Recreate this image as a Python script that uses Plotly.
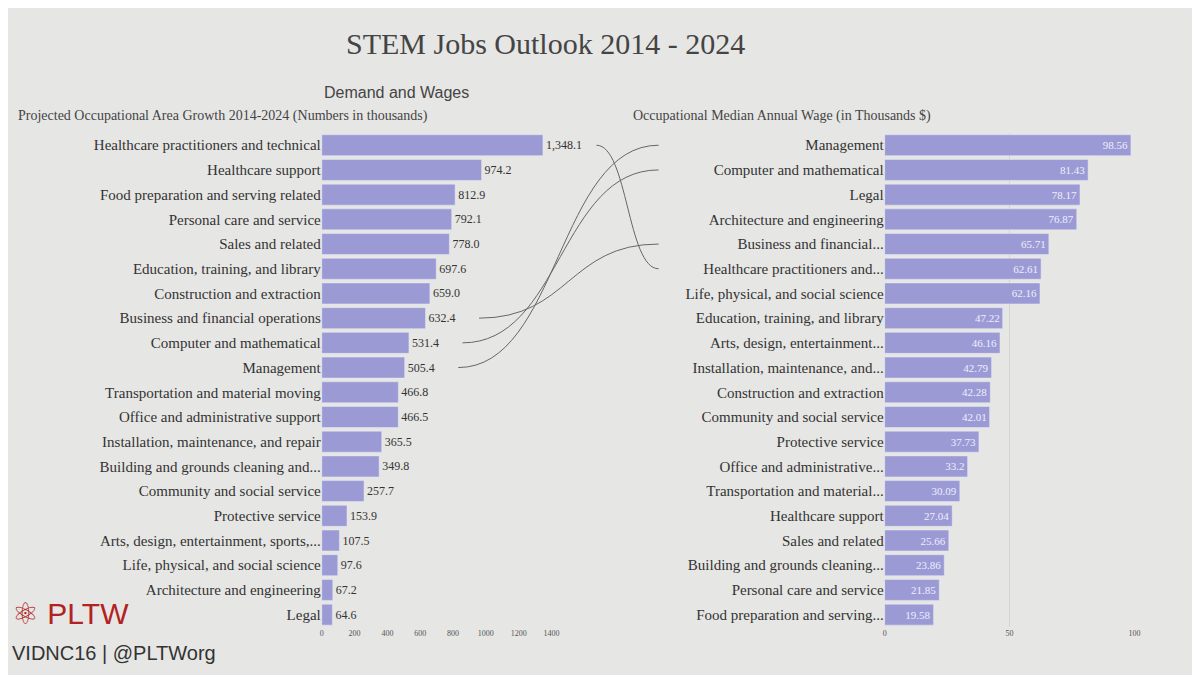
import plotly.graph_objects as go

left_cats = ["Healthcare practitioners and technical", "Healthcare support", "Food preparation and serving related",
             "Personal care and service", "Sales and related", "Education, training, and library",
             "Construction and extraction", "Business and financial operations", "Computer and mathematical",
             "Management", "Transportation and material moving", "Office and administrative support",
             "Installation, maintenance, and repair", "Building and grounds cleaning and...",
             "Community and social service", "Protective service", "Arts, design, entertainment, sports,...",
             "Life, physical, and social science", "Architecture and engineering", "Legal"]
left_vals = [1348.1, 974.2, 812.9, 792.1, 778.0, 697.6, 659.0, 632.4, 531.4, 505.4, 466.8, 466.5,
             365.5, 349.8, 257.7, 153.9, 107.5, 97.6, 67.2, 64.6]

right_cats = ["Management", "Computer and mathematical", "Legal", "Architecture and engineering",
              "Business and financial...", "Healthcare practitioners and...", "Life, physical, and social science",
              "Education, training, and library", "Arts, design, entertainment...", "Installation, maintenance, and...",
              "Construction and extraction", "Community and social service", "Protective service",
              "Office and administrative...", "Transportation and material...", "Healthcare support",
              "Sales and related", "Building and grounds cleaning...", "Personal care and service",
              "Food preparation and serving..."]
right_vals = [98.56, 81.43, 78.17, 76.87, 65.71, 62.61, 62.16, 47.22, 46.16, 42.79, 42.28, 42.01,
              37.73, 33.2, 30.09, 27.04, 25.66, 23.86, 21.85, 19.58]

links = [(0, 5), (7, 4), (8, 1), (9, 0)]  # left index -> right index

bar_color = "#9c9ad4"
font = "Liberation Serif"
fig = go.Figure()
fig.add_trace(go.Bar(x=left_vals, y=left_cats, orientation="h", marker_color=bar_color,
                     text=[f"{v:,.1f}" for v in left_vals], textposition="outside",
                     textfont=dict(size=12, color="#333", family=font), cliponaxis=False,
                     xaxis="x", yaxis="y", width=0.85))
fig.add_trace(go.Bar(x=right_vals, y=right_cats, orientation="h", marker_color=bar_color,
                     text=[f"{v:g}" for v in right_vals], textposition="inside", insidetextanchor="end",
                     textfont=dict(size=11, color="#eeeeff", family=font),
                     xaxis="x2", yaxis="y2", width=0.85))

y0, y1 = 0.083, 0.815
lx0, lx1 = 0.262, 0.455
rx0, rx1 = 0.735, 0.945
n = len(left_cats)
def ypos(i):
    return y1 - (i + 0.5) * (y1 - y0) / n

shapes = []
for li, ri in links:
    xs = lx0 + (left_vals[li] / 1400) * (lx1 - lx0) + 0.045
    xe = 0.545
    ya, yb = ypos(li), ypos(ri)
    xm = (xs + xe) / 2
    shapes.append(dict(type="path", xref="paper", yref="paper",
                       path=f"M {xs},{ya} C {xm},{ya} {xm},{yb} {xe},{yb}",
                       line=dict(color="#666", width=1)))

fig.update_layout(
    width=1200, height=675, showlegend=False, bargap=0.15,
    paper_bgcolor="#e6e6e4", plot_bgcolor="#e6e6e4",
    margin=dict(l=0, r=0, t=0, b=0), shapes=shapes,
    font=dict(family=font, color="#333"),
    xaxis=dict(domain=[lx0, lx1], range=[0, 1400], dtick=200, showgrid=False, zeroline=False,
               tickfont=dict(size=8, color="#555"), anchor="y"),
    yaxis=dict(domain=[y0, y1], autorange="reversed", tickfont=dict(size=15, color="#333"), anchor="x"),
    xaxis2=dict(domain=[rx0, rx1], range=[0, 100], dtick=50, showgrid=True, gridcolor="#d4d4d4",
                zeroline=False, tickfont=dict(size=8, color="#555"), anchor="y2"),
    yaxis2=dict(domain=[y0, y1], autorange="reversed", tickfont=dict(size=15, color="#333"), anchor="x2"),
    annotations=[
        dict(text="STEM Jobs Outlook 2014 - 2024", x=0.45, y=0.975, xref="paper", yref="paper",
             xanchor="center", showarrow=False, font=dict(size=30, color="#444", family=font)),
        dict(text="Demand and Wages", x=0.325, y=0.89, xref="paper", yref="paper", showarrow=False,
             xanchor="center", font=dict(size=16, color="#444", family="Liberation Sans")),
        dict(text="Projected Occupational Area Growth 2014-2024 (Numbers in thousands)", x=0.005, y=0.855,
             xref="paper", yref="paper", xanchor="left", showarrow=False, font=dict(size=14, color="#444")),
        dict(text="Occupational Median Annual Wage (in Thousands $)", x=0.522, y=0.855,
             xref="paper", yref="paper", xanchor="left", showarrow=False, font=dict(size=14, color="#444")),
        dict(text="⚛ PLTW", x=0.0, y=0.075, xref="paper", yref="paper", xanchor="left", showarrow=False,
             font=dict(size=30, color="#b22222", family="Liberation Sans")),
        dict(text="VIDNC16 | @PLTWorg", x=0.0, y=0.025, xref="paper", yref="paper", xanchor="left",
             showarrow=False, font=dict(size=20, color="#333", family="Liberation Sans")),
    ],
)
fig.write_html("out.html")
